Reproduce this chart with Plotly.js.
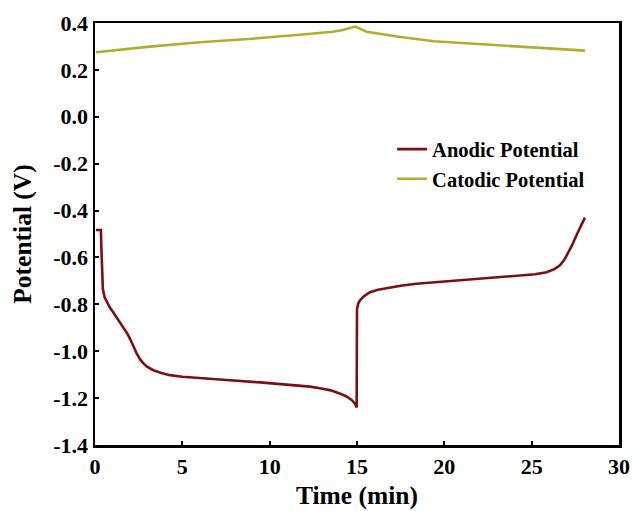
<!DOCTYPE html>
<html>
<head>
<meta charset="utf-8">
<script src="https://cdn.plot.ly/plotly-3.0.1.min.js"></script>
<style>html,body{margin:0;padding:0;background:#fff;}#chart{width:634px;height:511px;}</style>
</head>
<body>
<div id="chart"></div>
<script>
// Anodic potential (V) vs time (min)
const anodicTime = [0.05, 0.34, 0.36, 0.40, 0.45, 0.55, 0.7, 0.86, 1.05, 1.3, 1.62, 1.85, 2.0, 2.2, 2.39, 2.6, 2.77, 3.0, 3.34, 3.8, 4.29, 5.0, 5.63, 7.54, 9.45, 11.35, 12.3, 12.88, 13.5, 14.0, 14.4, 14.69, 14.9, 14.98, 15.0, 15.08, 15.17, 15.4, 15.74, 16.2, 16.7, 17.5, 18.4, 20.3, 22.2, 24.1, 25.2, 25.85, 26.3, 26.6, 26.85, 27.0, 27.3, 27.6, 27.85, 28.05];
const anodicV    = [-0.483, -0.483, -0.55, -0.70, -0.735, -0.77, -0.795, -0.815, -0.835, -0.862, -0.896, -0.925, -0.946, -0.98, -1.01, -1.037, -1.052, -1.067, -1.081, -1.093, -1.102, -1.109, -1.113, -1.123, -1.133, -1.144, -1.151, -1.158, -1.167, -1.18, -1.193, -1.208, -1.225, -1.24, -0.82, -0.795, -0.783, -0.765, -0.748, -0.738, -0.731, -0.721, -0.712, -0.701, -0.691, -0.68, -0.672, -0.663, -0.65, -0.635, -0.612, -0.592, -0.55, -0.50, -0.46, -0.43];
// Catodic potential (V) vs time (min)
const catodicTime = [0.05, 3.0, 6.0, 9.0, 11.7, 12.7, 13.6, 14.2, 14.9, 15.55, 17.5, 19.4, 21.3, 23.2, 25.6, 28.05];
const catodicV    = [0.275, 0.298, 0.318, 0.333, 0.350, 0.356, 0.363, 0.370, 0.385, 0.363, 0.340, 0.322, 0.313, 0.306, 0.295, 0.282];

const xTicks = [0, 5, 10, 15, 20, 25, 30];
const yTicks = [-1.4, -1.2, -1.0, -0.8, -0.6, -0.4, -0.2, 0.0, 0.2, 0.4];
const yTickText = yTicks.map(v => '<b>' + v.toFixed(1) + '</b>');
const xTickText = xTicks.map(v => '<b>' + v + '</b>');

const font = {family: '"Liberation Serif", "Times New Roman", serif', color: '#000'};

const traces = [
  {x: anodicTime, y: anodicV, type: 'scatter', mode: 'lines', name: '<b>Anodic Potential</b>',
   line: {color: '#7d0f12', width: 2.6}},
  {x: catodicTime, y: catodicV, type: 'scatter', mode: 'lines', name: '<b>Catodic Potential</b>',
   line: {color: '#b3ad2b', width: 2.6}}
];

const layout = {
  width: 634, height: 511,
  margin: {l: 95, r: 15, t: 23, b: 66},
  paper_bgcolor: '#fff', plot_bgcolor: '#fff',
  showlegend: true,
  legend: {x: 0.567, y: 0.748, xanchor: 'left', yanchor: 'top', bgcolor: 'rgba(0,0,0,0)',
           font: Object.assign({size: 20.5}, font), tracegroupgap: 0},
  xaxis: {
    range: [0, 30], tickvals: xTicks, ticktext: xTickText,
    ticks: 'inside', ticklen: 4, tickwidth: 2, tickcolor: '#000',
    showline: true, linecolor: '#000', linewidth: 2.5, mirror: true,
    showgrid: false, zeroline: false,
    tickfont: Object.assign({size: 22}, font),
    title: {text: '<b>Time (min)</b>', font: Object.assign({size: 25.5}, font), standoff: 8}
  },
  yaxis: {
    range: [-1.4, 0.4], tickvals: yTicks, ticktext: yTickText,
    ticks: 'inside', ticklen: 4, tickwidth: 2, tickcolor: '#000',
    showline: true, linecolor: '#000', linewidth: 2.5, mirror: true,
    showgrid: false, zeroline: false,
    tickfont: Object.assign({size: 22}, font),
    title: {text: '<b>Potential (V)</b>', font: Object.assign({size: 25.5}, font), standoff: 15}
  }
};

Plotly.newPlot('chart', traces, layout, {displayModeBar: false, staticPlot: true});
</script>
</body>
</html>
